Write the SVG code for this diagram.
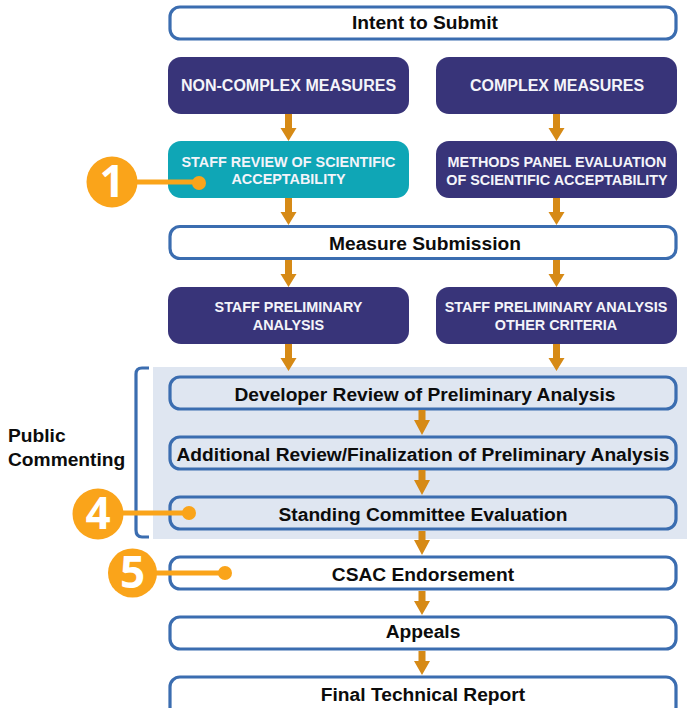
<svg xmlns="http://www.w3.org/2000/svg" width="687" height="708" viewBox="0 0 687 708">
<style>
text{font-family:"Liberation Sans",Arial,sans-serif;font-weight:700;text-anchor:middle}
.w{fill:#fff;stroke:#3b6db0;stroke-width:3.2}
.p{fill:none;stroke:#3b6db0;stroke-width:3.2}
.d{fill:#383479}
.t{fill:#0fa6b6}
.k{font-size:19.200px;fill:#0c0c0c}
.l{font-size:16px;fill:#f4f4fa}
.s{font-size:14.4px;fill:#f4f4fa}
.a{fill:#d68a16}
.c{fill:#faa41a}
.cl{stroke:#faa41a;stroke-width:5;fill:none}
.n{font-size:44px;fill:#fff;font-weight:700;font-family:"Open Sans","Liberation Sans",sans-serif}
</style>
<rect id="panel" x="153" y="367" width="534" height="172" fill="#dfe6f1"/>
<g id="intent"><rect class="w" x="170" y="7" width="506" height="32" rx="10"/><text class="k" x="425" y="29">Intent to Submit</text></g>
<g id="noncomplex"><rect class="d" x="168" y="57" width="241" height="57" rx="13"/><text class="l" x="288.500" y="91">NON-COMPLEX MEASURES</text></g>
<g id="complex"><rect class="d" x="436" y="57" width="241" height="57" rx="13"/><text class="l" x="557" y="91">COMPLEX MEASURES</text></g>
<g id="staffreview"><rect class="t" x="168" y="141" width="241" height="57" rx="13"/><text class="s" x="288.500" y="167">STAFF REVIEW OF SCIENTIFIC</text><text class="s" x="288.500" y="184">ACCEPTABILITY</text></g>
<g id="methods"><rect class="d" x="436" y="141" width="241" height="57" rx="13"/><text class="s" x="557" y="167">METHODS PANEL EVALUATION</text><text class="s" x="557" y="185">OF SCIENTIFIC ACCEPTABILITY</text></g>
<g id="submission"><rect class="w" x="170" y="226.500" width="506" height="32" rx="10"/><text class="k" x="425" y="250">Measure Submission</text></g>
<g id="prelim"><rect class="d" x="168" y="287" width="241" height="57" rx="13"/><text class="s" x="288.500" y="312">STAFF PRELIMINARY</text><text class="s" x="288.500" y="330">ANALYSIS</text></g>
<g id="prelimother"><rect class="d" x="436" y="287" width="241" height="57" rx="13"/><text class="s" x="556" y="312">STAFF PRELIMINARY ANALYSIS</text><text class="s" x="556" y="330">OTHER CRITERIA</text></g>
<g id="developer"><rect class="p" x="170" y="377" width="506" height="32" rx="10"/><text class="k" x="425" y="401">Developer Review of Preliminary Analysis</text></g>
<g id="additional"><rect class="p" x="170" y="437" width="506" height="32" rx="10"/><text class="k" x="423" y="461">Additional Review/Finalization of Preliminary Analysis</text></g>
<g id="standing"><rect class="p" x="170" y="497" width="506" height="32" rx="10"/><text class="k" x="423" y="521">Standing Committee Evaluation</text></g>
<g id="csac"><rect class="w" x="170" y="557" width="506" height="32" rx="10"/><text class="k" x="423" y="581">CSAC Endorsement</text></g>
<g id="appeals"><rect class="w" x="170" y="617" width="506" height="32" rx="10"/><text class="k" x="423" y="638">Appeals</text></g>
<g id="final"><rect class="w" x="170" y="677" width="506" height="40" rx="10"/><text class="k" x="423" y="701">Final Technical Report</text></g>
<g id="bracket"><path class="p" d="M149 368H142Q136 368 136 374V530Q136 537 142 537H149"/><text class="k" x="8" y="442" style="text-anchor:start">Public</text><text class="k" x="8" y="466" style="text-anchor:start">Commenting</text></g>
<g id="connectors">
<defs><path id="arr" class="a" d="M-3.500 0H3.500V14H8L0 27L-8 14H-3.500Z"/></defs>
<use href="#arr" x="288.500" y="114"/><use href="#arr" x="556.500" y="114"/>
<use href="#arr" x="288.500" y="198"/><use href="#arr" x="556.500" y="198"/>
<use href="#arr" x="288.500" y="260"/><use href="#arr" x="556.500" y="260"/>
<use href="#arr" x="288.500" y="344"/><use href="#arr" x="556.500" y="344"/>
<path class="a" d="M418.500 410H425.500V420H430L422 435L414 420H418.500Z"/>
<path class="a" d="M418.500 470H425.500V480H430L422 495L414 480H418.500Z"/>
<path class="a" d="M418.500 531H425.500V540H430L422 555L414 540H418.500Z"/>
<path class="a" d="M418.500 591H425.500V601H430L422 615L414 601H418.500Z"/>
<path class="a" d="M418.500 651H425.500V661H430L422 675L414 661H418.500Z"/>
</g>
<g id="callout1"><path class="cl" d="M130 182H199"/><circle class="c" cx="199" cy="183" r="7"/><circle class="c" cx="112" cy="182" r="25.500"/><text class="n" x="112" y="197">1</text></g>
<g id="callout4"><path class="cl" d="M120 513H189"/><circle class="c" cx="189" cy="513" r="7"/><circle class="c" cx="98" cy="514" r="25.500"/><text class="n" x="98" y="529">4</text></g>
<g id="callout5"><path class="cl" d="M150 573H225"/><circle class="c" cx="225" cy="573" r="7"/><circle class="c" cx="132.500" cy="573" r="24.500"/><text class="n" x="132.500" y="588">5</text></g>
</svg>
